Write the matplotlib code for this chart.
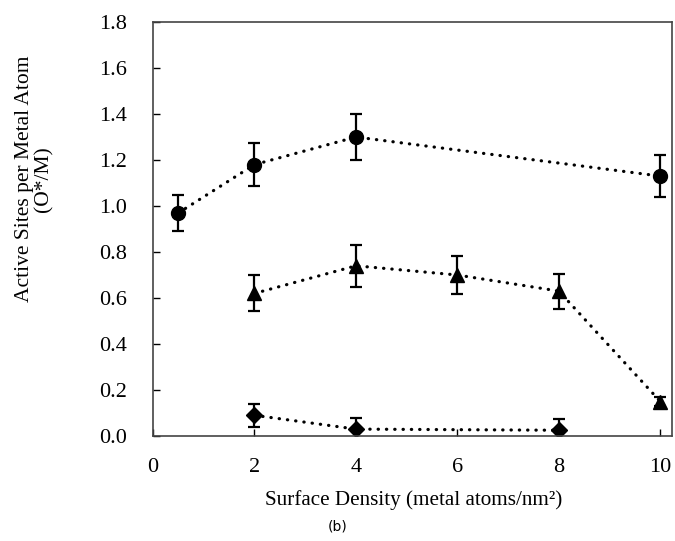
import matplotlib
matplotlib.use("Agg")
import matplotlib.pyplot as plt

# data
circ_x = [0.5, 2, 4, 10]
circ_y = [0.97, 1.18, 1.30, 1.13]
circ_err = [0.08, 0.095, 0.10, 0.09]

tri_x = [2, 4, 6, 8, 10]
tri_y = [0.62, 0.74, 0.70, 0.63, 0.15]
tri_err = [0.078, 0.09, 0.083, 0.076, 0.02]

dia_x = [2, 4, 8]
dia_y = [0.09, 0.03, 0.025]
dia_err = [0.05, 0.05, 0.05]

x_ticks = [0, 2, 4, 6, 8, 10]
y_ticks = [0.0, 0.2, 0.4, 0.6, 0.8, 1.0, 1.2, 1.4, 1.6, 1.8]

plt.rcParams['font.family'] = ['Liberation Serif', 'DejaVu Serif']

fig = plt.figure(figsize=(6.75, 5.41), dpi=100)
ax = fig.add_axes([153 / 675, 1 - 436 / 541, 519 / 675, 414 / 541])

line_kw = dict(color='black', linestyle=(0, (0.1, 2.5)), linewidth=2.3,
               dash_capstyle='round', ecolor='black', elinewidth=1.6,
               capsize=4, capthick=1.6)

ax.errorbar(circ_x, circ_y, yerr=circ_err, marker='o', markersize=10, **line_kw)
ax.errorbar(tri_x, tri_y, yerr=tri_err, marker='^', markersize=10, **line_kw)
ax.errorbar(dia_x, dia_y, yerr=dia_err, marker='D', markersize=8, **line_kw)

ax.set_xlim(0, 10.23)
ax.set_ylim(0, 1.8)
ax.set_xticks(x_ticks)
ax.set_yticks(y_ticks)
ax.set_xticklabels([str(t) for t in x_ticks], fontsize=16)
ax.set_yticklabels([f'{t:.1f}' for t in y_ticks], fontsize=16)
ax.tick_params(direction='in', length=5, width=1, top=False, right=False)
ax.tick_params(axis='y', pad=19)
ax.tick_params(axis='x', pad=16)

for sp in ax.spines.values():
    sp.set_color('#444444')
    sp.set_linewidth(1.2)

# y label sits above the axes centre in the reference
fig.text(34 / 675, 1 - 179 / 541, 'Active Sites per Metal Atom\n(O*/M)',
         rotation=90, ha='center', va='center', fontsize=15.5,
         linespacing=1.0, multialignment='center')
fig.text(414 / 675, 1 - 500 / 541, 'Surface Density (metal atoms/nm²)',
         ha='center', va='center', fontsize=15.2)

fig.text(0.5, 1 - 527 / 541, '(b)', ha='center', va='center',
         fontsize=10, family='DejaVu Sans')

fig.savefig('out.png', dpi=100)
